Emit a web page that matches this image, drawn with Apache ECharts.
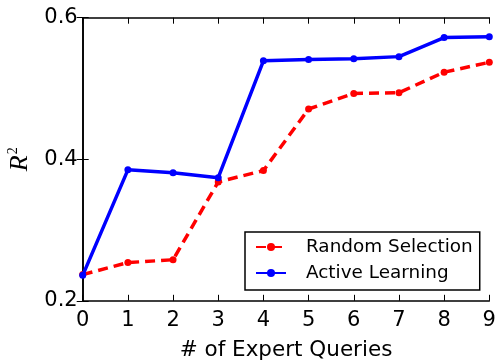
<!DOCTYPE html>
<html><head><meta charset="utf-8">
<script src="https://cdn.jsdelivr.net/npm/echarts@6/dist/echarts.min.js"></script>
<style>html,body{margin:0;padding:0;background:#fff}#c{width:500px;height:360px}</style>
</head><body><div id="c"></div>
<script>
const queries = [0,1,2,3,4,5,6,7,8,9];
const randomSelection = [0.237,0.254,0.258,0.368,0.384,0.471,0.493,0.494,0.523,0.537];
const activeLearning  = [0.236,0.385,0.381,0.374,0.539,0.541,0.542,0.545,0.572,0.573];
const yTicks = [0.2,0.4,0.6];
const xTicks = queries;

const F = 'DejaVu Sans';
const chart = echarts.init(document.getElementById('c'), null, {renderer:'canvas'});
const axisLine = {show:true, lineStyle:{color:'#000', width:1.6}};
const tickIn = {show:true, inside:true, length:6, lineStyle:{color:'#000', width:1}};
chart.setOption({
  animation:false,
  backgroundColor:'#fff',
  grid:{left:82.7, right:10.7, top:17.7, bottom:59.2, containLabel:false, outerBoundsMode:'none'},
  legend:{
    orient:'vertical', left:245, top:232,
    backgroundColor:'#fff', borderColor:'#000', borderWidth:1.5, borderRadius:0,
    padding:[6,7,8,10], itemGap:8, itemWidth:30, itemHeight:10,
    textStyle:{fontFamily:F, fontSize:18.4, color:'#000', padding:[0,0,0,15]},
    data:['Random Selection','Active Learning']
  },
  xAxis:[{
    type:'value', min:0, max:9, interval:1, position:'bottom',
    name:'# of Expert Queries', nameLocation:'middle', nameGap:39,
    nameTextStyle:{fontFamily:F, fontSize:21.5, color:'#000'},
    axisLine, axisTick:tickIn,
    axisLabel:{fontFamily:F, fontSize:21, color:'#000', margin:9,
      formatter:v=>xTicks.includes(v)?String(v):''},
    splitLine:{show:false}
  },{
    type:'value', min:0, max:9, interval:1, position:'top',
    axisLine, axisTick:tickIn, axisLabel:{show:false}, splitLine:{show:false}
  }],
  yAxis:[{
    type:'value', min:0.2, max:0.6, interval:0.2, position:'left',
    name:'{r|R}{s|2}', nameLocation:'middle', nameRotate:90, nameGap:50,
    nameTextStyle:{color:'#000', rich:{
      r:{fontFamily:'Liberation Serif', fontStyle:'italic', fontSize:26, color:'#000', verticalAlign:'bottom'},
      s:{fontFamily:'Liberation Serif', fontSize:14, color:'#000', verticalAlign:'top', padding:[0,0,0,1]}
    }},
    axisLine, axisTick:tickIn,
    axisLabel:{fontFamily:F, fontSize:21, color:'#000', margin:5,
      formatter:v=>{const t=yTicks.find(s=>Math.abs(s-v)<1e-9);return t===undefined?'':t.toFixed(1);}},
    splitLine:{show:false}
  },{
    type:'value', min:0.2, max:0.6, interval:0.2, position:'right',
    axisLine, axisTick:tickIn, axisLabel:{show:false}, splitLine:{show:false}
  }],
  series:[{
    name:'Random Selection', type:'line',
    data:queries.map((q,i)=>[q,randomSelection[i]]),
    symbol:'circle', symbolSize:7, clip:true,
    lineStyle:{color:'#ff0000', width:3.5, type:[10,6]},
    itemStyle:{color:'#ff0000'}, z:2
  },{
    name:'Active Learning', type:'line',
    data:queries.map((q,i)=>[q,activeLearning[i]]),
    symbol:'circle', symbolSize:7, clip:true,
    lineStyle:{color:'#0000ff', width:3.5, type:'solid'},
    itemStyle:{color:'#0000ff'}, z:3
  }]
});
</script></body></html>
